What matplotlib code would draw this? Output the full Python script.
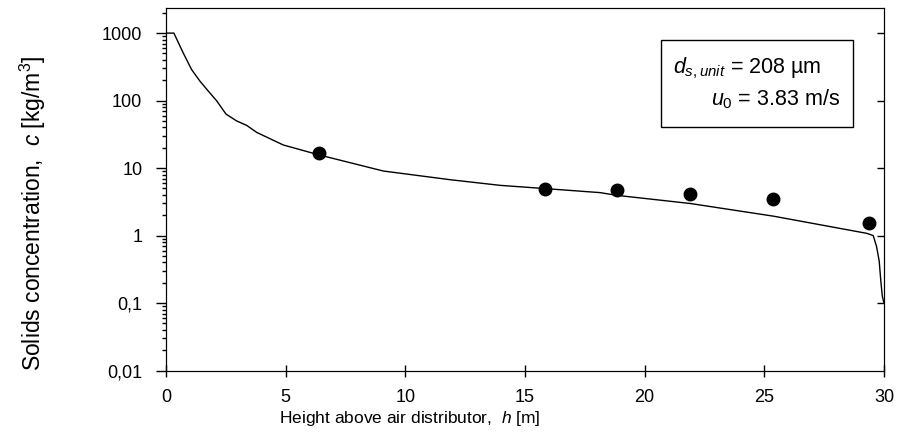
import numpy as np
import matplotlib.pyplot as plt
from matplotlib.patches import Rectangle
from matplotlib.ticker import LogLocator, NullFormatter

plt.rcParams['font.family'] = ['Liberation Sans', 'DejaVu Sans']
plt.rcParams['mathtext.fontset'] = 'custom'
plt.rcParams['mathtext.rm'] = 'Liberation Sans'
plt.rcParams['mathtext.it'] = 'Liberation Sans:italic'

# model curve
h_model = [0, 0.33, 0.72, 1.07, 1.42, 1.77, 2.12, 2.51, 2.95, 3.37, 3.79, 4.9,
           6.39, 9.08, 11.87, 13.96, 15.84, 18.14, 18.83, 21.9, 25.38, 29.28,
           29.55, 29.69, 29.8, 29.87, 29.93, 30.0]
c_model = [1000, 1000, 508, 288, 194, 138, 99, 63, 50, 43, 33.8, 22,
           15.7, 9.05, 6.73, 5.55, 4.97, 4.33, 3.95, 2.99, 1.94, 1.08,
           1.0, 0.69, 0.42, 0.21, 0.127, 0.1]

# measured points
h_meas = [6.39, 15.84, 18.83, 21.9, 25.38, 29.39]
c_meas = [16.6, 4.97, 4.8, 4.19, 3.54, 1.55]

y_ticks = [0.01, 0.1, 1, 10, 100, 1000]
y_ticklabels = ['0,01', '0,1', '1', '10', '100', '1000']
x_ticks = [0, 5, 10, 15, 20, 25, 30]

fig = plt.figure(figsize=(9.13, 4.37), dpi=100)
ax = fig.add_axes([0.1818, 0.152, 0.7864, 0.829])

ax.plot(h_model, c_model, color='black', lw=1.0)
ax.plot(h_meas, c_meas, 'o', color='black', ms=9)

ax.set_yscale('log')
ax.set_xlim(0, 30)
ax.set_ylim(0.01, 2330)
ax.set_yticks(y_ticks)
ax.set_yticklabels(y_ticklabels)
ax.yaxis.set_minor_locator(LogLocator(base=10, subs=np.arange(2, 10)))
ax.yaxis.set_minor_formatter(NullFormatter())
ax.set_xticks(x_ticks)
ax.set_xticks(np.arange(0, 31, 1), minor=True)

ax.tick_params(axis='y', which='major', direction='out', length=7, width=1,
               labelsize=13, pad=10)
ax.tick_params(axis='y', which='minor', direction='out', length=3, width=1)
ax.tick_params(axis='x', which='major', direction='inout', length=8, width=1,
               labelsize=13, pad=9)
ax.tick_params(axis='x', which='minor', direction='out', length=3, width=1)

# right axis: inward decade ticks only
ax2 = ax.twinx()
ax2.set_yscale('log')
ax2.set_ylim(ax.get_ylim())
ax2.set_yticks(y_ticks[1:])
ax2.set_yticklabels([])
ax2.minorticks_off()
ax2.tick_params(axis='y', direction='in', length=5, width=1)

ax.set_xlabel('Height above air distributor,  $h$ [m]', fontsize=12.5)
ax.xaxis.set_label_coords(0.34, -0.105)
ax.set_ylabel('Solids concentration,  $c$ [kg/m$^3$]', fontsize=16.5)
ax.yaxis.set_label_coords(-0.164, 0.435)

# parameter box
ax.add_patch(Rectangle((0.690, 0.671), 0.267, 0.241, transform=ax.transAxes,
                       fill=False, lw=1, color='black'))
ax.text(0.706, 0.821, '$d_{s,unit}$ = 208 \u00b5m', transform=ax.transAxes,
        ha='left', va='baseline', fontsize=15.5)
ax.text(0.939, 0.733, '$u_0$ = 3.83 m/s', transform=ax.transAxes,
        ha='right', va='baseline', fontsize=15.5)

plt.savefig('out.png', dpi=100)
